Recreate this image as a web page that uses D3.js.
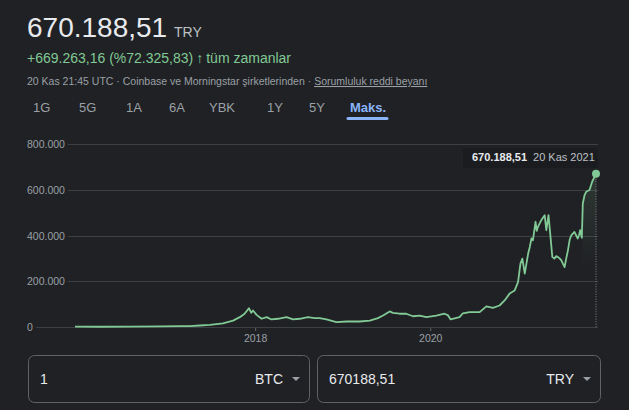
<!DOCTYPE html>
<html><head><meta charset="utf-8">
<script src="https://cdn.jsdelivr.net/npm/d3@7"></script>
<style>
html,body{margin:0;padding:0;background:#202124;}
svg{display:block;font-family:Arial,"Liberation Sans",sans-serif;}
</style></head>
<body>
<script>
// ---- data ----
const dates = ["2015-12-10","2016-03-22","2016-07-25","2016-11-27","2017-02-20","2017-04-02","2017-05-14","2017-06-24","2017-08-18","2017-09-29","2017-10-27","2017-11-16","2017-12-04","2017-12-14","2017-12-21","2018-01-05","2018-01-26","2018-02-16","2018-03-08","2018-04-04","2018-05-10","2018-06-06","2018-07-04","2018-08-07","2018-09-04","2018-09-25","2018-10-23","2018-12-04","2019-01-15","2019-03-11","2019-04-22","2019-05-26","2019-06-16","2019-07-14","2019-07-27","2019-08-24","2019-09-21","2019-10-19","2019-11-16","2019-12-14","2020-01-24","2020-02-27","2020-03-12","2020-03-24","2020-04-30","2020-05-14","2020-06-11","2020-07-23","2020-08-20","2020-09-16","2020-10-14","2020-11-04","2020-11-25","2020-12-16","2020-12-30","2021-01-09","2021-01-17","2021-01-27","2021-02-10","2021-02-17","2021-02-24","2021-03-02","2021-03-13","2021-03-18","2021-03-23","2021-04-06","2021-04-14","2021-04-20","2021-04-27","2021-05-06","2021-05-13","2021-05-22","2021-05-31","2021-06-07","2021-06-14","2021-06-21","2021-06-28","2021-07-12","2021-07-19","2021-07-26","2021-08-02","2021-08-09","2021-08-22","2021-09-05","2021-09-10","2021-09-15","2021-09-22","2021-09-26","2021-10-03","2021-10-10","2021-10-24","2021-11-04","2021-11-20"];
const prices = [1300,1200,1900,2300,3500,3800,6500,9600,16000,28000,43000,58000,82000,62000,72000,53000,36000,43000,33000,36000,43000,33000,36000,43000,39000,39000,33000,21000,24000,24000,28000,39000,50000,68000,62000,58000,58000,47000,50000,43000,50000,58000,52000,33000,43000,60000,65000,65000,90000,84000,94000,116000,146000,160000,196000,277000,299000,233000,320000,350000,387000,379000,460000,420000,438000,467000,480000,489000,423000,489000,409000,306000,299000,310000,306000,300000,292000,262000,300000,335000,380000,401000,416000,387000,400000,423000,390000,540000,575000,591000,599000,635000,670188.51];
const yTicks = [0,200000,400000,600000,800000];
const yTickLabels = ["0","200.000","400.000","600.000","800.000"];
const xTicks = ["2018-01-01","2020-01-01"];
const xTickLabels = ["2018","2020"];
const tabs = ["1G","5G","1A","6A","YBK","1Y","5Y","Maks."];
const tabX = [33,79,126,169,209,267,309,350];

const W=629,H=410;
const parse = d3.timeParse("%Y-%m-%d");
const data = dates.map((d,i)=>({date:parse(d),value:prices[i]}));

const svg = d3.select("body").append("svg").attr("width",W).attr("height",H);

// header
svg.append("text").attr("x",27).attr("y",37).attr("fill","#e8eaed").attr("font-size",28).text("670.188,51");
svg.append("text").attr("x",174).attr("y",37).attr("fill","#bdc1c6").attr("font-size",14).text("TRY");
const l2 = svg.append("text").attr("x",27).attr("y",63).attr("fill","#81c995").attr("font-size",14);
l2.append("tspan").text("+669.263,16 (%72.325,83)");
l2.append("tspan").attr("dx",3).attr("font-weight","bold").text("↑");
l2.append("tspan").attr("dx",3).text("tüm zamanlar");
const l3 = svg.append("text").attr("x",27).attr("y",85).attr("fill","#9aa0a6").attr("font-size",10.5);
l3.append("tspan").text("20 Kas 21:45 UTC · Coinbase ve Morningstar şirketlerinden · ");
l3.append("tspan").attr("text-decoration","underline").text("Sorumluluk reddi beyanı");

// tabs
tabs.forEach((t,i)=>{
  svg.append("text").attr("x",tabX[i]).attr("y",112).attr("font-size",13)
    .attr("fill", t==="Maks."?"#8ab4f8":"#9aa0a6").attr("font-weight",t==="Maks."?"bold":"normal").text(t);
});
svg.append("line").attr("x1",348).attr("x2",387).attr("y1",118.5).attr("y2",118.5)
  .attr("stroke","#8ab4f8").attr("stroke-width",3).attr("stroke-linecap","round");

// scales
const x = d3.scaleTime().domain([parse("2015-12-10"),parse("2021-11-20")]).range([75,596]);
const y = d3.scaleLinear().domain([0,800000]).range([327,144]);

// y grid + labels
const g = svg.append("g");
yTicks.forEach((v,i)=>{
  const t = g.append("text").attr("x",27).attr("y",y(v)+4).attr("font-size",10.5).attr("fill","#9aa0a6").text(yTickLabels[i]);
  const len = t.node().getComputedTextLength();
  g.append("line").attr("x1",27+len+3).attr("x2",598).attr("y1",Math.round(y(v))+0.5).attr("y2",Math.round(y(v))+0.5)
    .attr("stroke","#3c4043").attr("stroke-width",1);
});

// x axis labels
xTicks.forEach((d,i)=>{
  const xx = x(parse(d));
  svg.append("line").attr("x1",xx).attr("x2",xx).attr("y1",328).attr("y2",331).attr("stroke","#5f6368");
  svg.append("text").attr("x",xx).attr("y",342).attr("text-anchor","middle").attr("font-size",10.5).attr("fill","#9aa0a6").text(xTickLabels[i]);
});

// hover shading under last segment
const defs = svg.append("defs");
const grad = defs.append("linearGradient").attr("id","gf").attr("x1",0).attr("x2",0).attr("y1",0).attr("y2",1);
grad.append("stop").attr("offset","0%").attr("stop-color","#81c995").attr("stop-opacity",0.14);
grad.append("stop").attr("offset","60%").attr("stop-color","#81c995").attr("stop-opacity",0.0);
defs.append("clipPath").attr("id","cp").append("rect").attr("x",x(parse("2021-09-26"))).attr("y",140).attr("width",x(parse("2021-11-20"))-x(parse("2021-09-26"))).attr("height",190);
const area = d3.area().x(d=>x(d.date)).y0(y(0)).y1(d=>y(d.value));
svg.append("path").datum(data).attr("d",area).attr("fill","url(#gf)").attr("clip-path","url(#cp)");

// line
const line = d3.line().x(d=>x(d.date)).y(d=>y(d.value));
svg.append("path").datum(data).attr("d",line).attr("fill","none").attr("stroke","#81c995")
  .attr("stroke-width",1.8).attr("stroke-linejoin","round");

// end marker + dotted rule
const last = data[data.length-1];
svg.append("line").attr("x1",x(last.date)).attr("x2",x(last.date)).attr("y1",y(last.value)).attr("y2",y(0))
  .attr("stroke","#80868b").attr("stroke-dasharray","1,1.5").attr("stroke-width",1);
svg.append("circle").attr("cx",x(last.date)).attr("cy",y(last.value)).attr("r",4).attr("fill","#81c995");

// tooltip
svg.append("rect").attr("x",463).attr("y",148).attr("width",135).attr("height",20).attr("fill","#1b1c1f");
const tt = svg.append("text").attr("x",472).attr("y",161).attr("font-size",11);
tt.append("tspan").attr("fill","#e8eaed").attr("font-weight","bold").text("670.188,51");
tt.append("tspan").attr("dx",6).attr("fill","#bdc1c6").text("20 Kas 2021");

// converter boxes
const boxes = [{x:28,w:281,val:"1",cur:"BTC"},{x:317,w:283,val:"670188,51",cur:"TRY"}];
boxes.forEach(b=>{
  svg.append("rect").attr("x",b.x+0.5).attr("y",355.5).attr("width",b.w).attr("height",47).attr("rx",6)
    .attr("fill","#202124").attr("stroke","#5f6368").attr("stroke-width",1);
  svg.append("text").attr("x",b.x+12).attr("y",384).attr("font-size",14).attr("fill","#e8eaed").text(b.val);
  svg.append("text").attr("x",b.x+b.w-26).attr("y",384).attr("text-anchor","end").attr("font-size",14).attr("fill","#e8eaed").text(b.cur);
  svg.append("path").attr("d",`M${b.x+b.w-17},377 l8,0 l-4,4 z`).attr("fill","#9aa0a6");
});
</script>
</body></html>
